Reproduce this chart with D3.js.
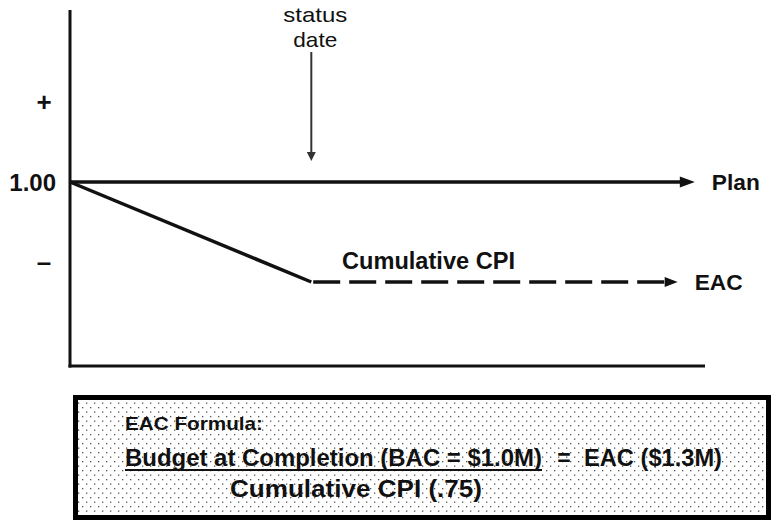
<!DOCTYPE html>
<html>
<head>
<meta charset="utf-8">
<script src="https://cdn.jsdelivr.net/npm/d3@7"></script>
<style>
  html, body { margin: 0; padding: 0; background: #fff; }
  svg { display: block; font-family: "Liberation Sans", Arial, Helvetica, sans-serif; }
</style>
</head>
<body>
<svg id="chart" width="774" height="520"></svg>
<script>
// ---- data ----
const timeDomain = [0, 100];
const cpiDomain = [0.54, 1.43];
const statusDate = 38;
const yTickValues = [1.2, 1.0, 0.8];
const yTickLabels = ["+", "1.00", "\u2013"];
const planX = [0, 98.4];
const planY = [1.0, 1.0];
const cpiX = [0, 38];
const cpiY = [1.0, 0.75];
const eacX = [38.3, 95.7];
const eacY = [0.75, 0.75];
const seriesLabels = ["Plan", "Cumulative CPI", "EAC"];
const statusLabel = ["status", "date"];
const formulaTitle = "EAC Formula:";
const formulaNumerator = "Budget at Completion (BAC = $1.0M)";
const formulaResult = "EAC ($1.3M)";
const formulaDenominator = "Cumulative CPI (.75)";

// ---- layout ----
const svg = d3.select("#chart");
const x = d3.scaleLinear().domain(timeDomain).range([70, 705]);
const y = d3.scaleLinear().domain(cpiDomain).range([366, 10]);
const ink = "#111";

// pattern for formula box
const defs = svg.append("defs");
const pat = defs.append("pattern").attr("id", "dots")
  .attr("patternUnits", "userSpaceOnUse").attr("width", 8).attr("height", 9)
  .attr("x", 2).attr("y", 2);
pat.append("rect").attr("width", 8).attr("height", 9).attr("fill", "#fff");
pat.append("rect").attr("x", 0).attr("y", 0).attr("width", 1.3).attr("height", 1.3).attr("fill", "#555");
pat.append("rect").attr("x", 4).attr("y", 4.5).attr("width", 1.3).attr("height", 1.3).attr("fill", "#555");

// axes
svg.append("line").attr("x1", x(0)).attr("x2", x(0)).attr("y1", y(cpiDomain[1])).attr("y2", y(cpiDomain[0]) + 1.5)
  .attr("stroke", ink).attr("stroke-width", 3);
svg.append("line").attr("x1", x(0) - 1.5).attr("x2", x(timeDomain[1])).attr("y1", y(cpiDomain[0])).attr("y2", y(cpiDomain[0]))
  .attr("stroke", ink).attr("stroke-width", 3);

// y tick labels
svg.append("g").selectAll("text").data(yTickValues).join("text")
  .attr("x", (d, i) => i === 1 ? 56 : 44)
  .attr("y", d => y(d))
  .attr("dy", (d, i) => i === 1 ? "0.36em" : "0.35em")
  .attr("text-anchor", (d, i) => i === 1 ? "end" : "middle")
  .attr("font-weight", "bold")
  .attr("font-size", (d, i) => i === 1 ? 24 : 26)
  .attr("fill", ink)
  .text((d, i) => yTickLabels[i]);

const line = d3.line().x(d => x(d[0])).y(d => y(d[1]));

function arrowHead(tipX, tipY, len, half, dir) {
  if (dir === "right") return `M${tipX},${tipY}L${tipX - len},${tipY - half}L${tipX - len},${tipY + half}Z`;
  return `M${tipX},${tipY}L${tipX - half},${tipY - len}L${tipX + half},${tipY - len}Z`;
}

// plan line
const planPts = planX.map((v, i) => [v, planY[i]]);
svg.append("path").attr("d", line([planPts[0], [x.invert(x(planX[1]) - 14), planY[1]]]))
  .attr("fill", "none").attr("stroke", ink).attr("stroke-width", 3.5);
svg.append("path").attr("d", arrowHead(x(planX[1]), y(planY[1]), 15, 5.5, "right")).attr("fill", ink);
svg.append("text").attr("x", x(planX[1]) + 17).attr("y", y(planY[1]) + 8)
  .attr("font-weight", "bold").attr("font-size", 22).attr("fill", ink)
  .attr("textLength", 48).attr("lengthAdjust", "spacingAndGlyphs").text(seriesLabels[0]);

// cumulative CPI solid
const cpiPts = cpiX.map((v, i) => [v, cpiY[i]]);
svg.append("path").attr("d", line(cpiPts))
  .attr("fill", "none").attr("stroke", ink).attr("stroke-width", 3.5);
svg.append("text").attr("x", 342).attr("y", 269)
  .attr("font-weight", "bold").attr("font-size", 23).attr("fill", ink)
  .attr("textLength", 173).attr("lengthAdjust", "spacingAndGlyphs")
  .text(seriesLabels[1]);

// EAC dashed
const eacPts = eacX.map((v, i) => [v, eacY[i]]);
svg.append("path").attr("d", line([eacPts[0], [x.invert(x(eacX[1]) - 13), eacY[1]]]))
  .attr("fill", "none").attr("stroke", ink).attr("stroke-width", 3.5)
  .attr("stroke-dasharray", "27,9");
svg.append("path").attr("d", arrowHead(x(eacX[1]), y(eacY[1]), 13, 5, "right")).attr("fill", ink);
svg.append("text").attr("x", x(eacX[1]) + 17).attr("y", y(eacY[1]) + 8)
  .attr("font-weight", "bold").attr("font-size", 22).attr("fill", ink)
  .attr("textLength", 48).attr("lengthAdjust", "spacingAndGlyphs").text(seriesLabels[2]);

// status date arrow
svg.append("line").attr("x1", x(statusDate)).attr("x2", x(statusDate)).attr("y1", 52).attr("y2", 153)
  .attr("stroke", "#333").attr("stroke-width", 2);
svg.append("path").attr("d", arrowHead(x(statusDate), 161, 9, 4.5, "down")).attr("fill", "#333");
svg.append("g").selectAll("text").data(statusLabel).join("text")
  .attr("x", x(statusDate) + 4).attr("y", (d, i) => 22 + i * 25)
  .attr("text-anchor", "middle").attr("font-size", 21).attr("fill", ink)
  .attr("textLength", (d, i) => i === 0 ? 64 : 44).attr("lengthAdjust", "spacingAndGlyphs")
  .text(d => d);

// formula box
svg.append("rect").attr("x", 75.5).attr("y", 397.5).attr("width", 693).attr("height", 120)
  .attr("fill", "url(#dots)").attr("stroke", "#000").attr("stroke-width", 5);

svg.append("text").attr("x", 125).attr("y", 430)
  .attr("font-weight", "bold").attr("font-size", 19).attr("fill", ink)
  .attr("textLength", 138).attr("lengthAdjust", "spacingAndGlyphs")
  .text(formulaTitle);
svg.append("text").attr("x", 125).attr("y", 466)
  .attr("font-weight", "bold").attr("font-size", 23).attr("fill", ink)
  .attr("textLength", 417).attr("lengthAdjust", "spacingAndGlyphs")
  .text(formulaNumerator);
svg.append("line").attr("x1", 125).attr("x2", 542).attr("y1", 470).attr("y2", 470)
  .attr("stroke", ink).attr("stroke-width", 2);
svg.append("text").attr("x", 564).attr("y", 466).attr("text-anchor", "middle")
  .attr("font-weight", "bold").attr("font-size", 23).attr("fill", ink).text("=");
svg.append("text").attr("x", 584).attr("y", 466)
  .attr("font-weight", "bold").attr("font-size", 23).attr("fill", ink)
  .attr("textLength", 138).attr("lengthAdjust", "spacingAndGlyphs")
  .text(formulaResult);
svg.append("text").attr("x", 230).attr("y", 497)
  .attr("font-weight", "bold").attr("font-size", 23).attr("fill", ink)
  .attr("textLength", 252).attr("lengthAdjust", "spacingAndGlyphs")
  .text(formulaDenominator);
</script>
</body>
</html>
